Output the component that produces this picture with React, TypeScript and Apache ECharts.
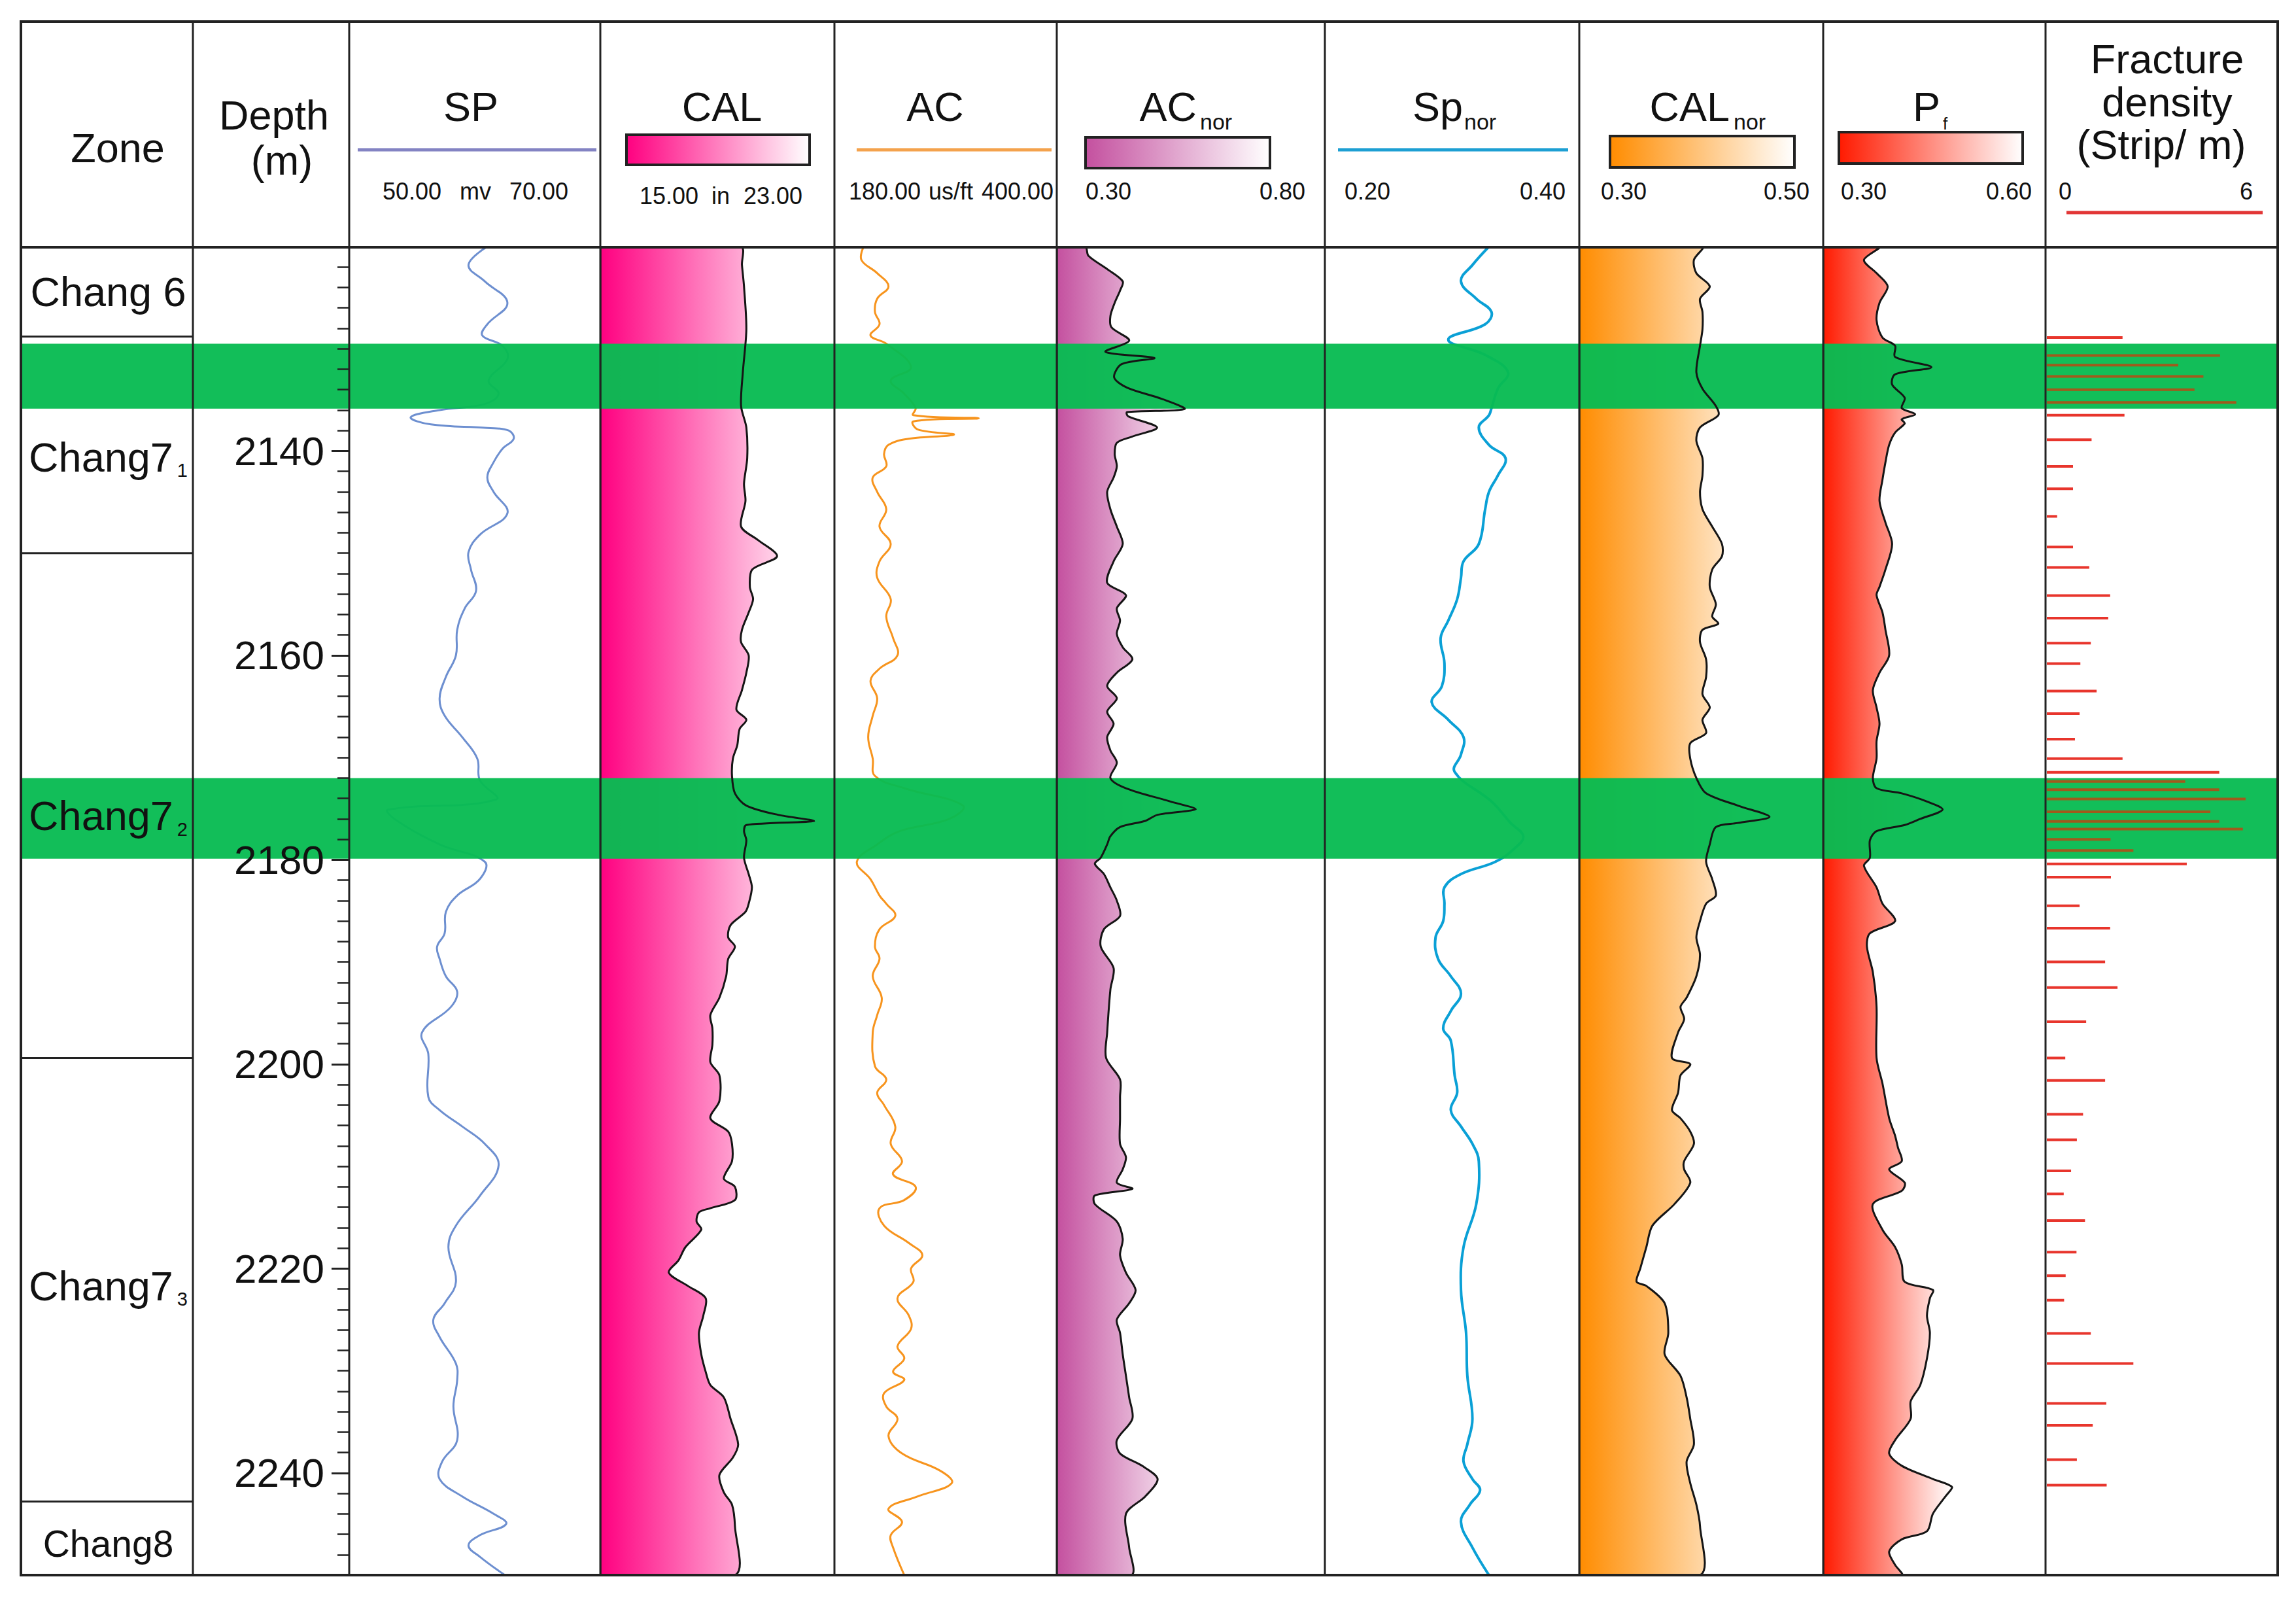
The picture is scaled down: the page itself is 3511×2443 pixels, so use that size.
import React, { useEffect, useRef } from 'react';
import * as echarts from 'echarts';

// ---------------- data ----------------
const DEPTH_MIN = 2120;
const DEPTH_MAX = 2250;
const DEPTH_TICK_LABELS = [2140, 2160, 2180, 2200, 2220, 2240];

const ZONE_NAMES = ['Chang 6', 'Chang7', 'Chang7', 'Chang7', 'Chang8'];
const ZONE_SUBS = ['', '1', '2', '3', ''];
const ZONE_TOPS = [2120, 2128.8, 2150, 2199.4, 2242.8];
const ZONE_LABEL_DEPTHS = [2124.4, 2140.6, 2175.7, 2221.7, 2246.9];

const BAND_TOPS = [2129.5, 2172.0];
const BAND_BOTTOMS = [2135.85, 2179.9];

// [depth (m), value]
const SP = [
  [2120, 61.0], [2121.8, 59.5], [2123.4, 60.8], [2125.5, 62.6], [2127.6, 61.0], [2128.7, 60.6], [2129.7, 62.2],
  [2131.0, 62.6], [2133.1, 61.1], [2134.4, 61.9], [2135.4, 60.8], [2136.0, 57.2], [2136.7, 54.9], [2137.4, 56.5],
  [2137.75, 61.0], [2138.0, 62.7], [2138.8, 63.1], [2139.8, 62.2], [2141.1, 61.5], [2142.6, 61.0], [2144.0, 61.5],
  [2146.1, 62.6], [2148.2, 60.4], [2149.9, 59.5], [2151.6, 59.7], [2153.7, 60.1], [2155.4, 59.2], [2157.5, 58.6],
  [2160.0, 58.5], [2162.1, 57.7], [2164.2, 57.2], [2165.9, 57.6], [2168.0, 59.0], [2170.1, 60.2], [2172.2, 60.4],
  [2174.1, 61.7], [2175.1, 53.1], [2176.0, 53.6], [2178.5, 57.2], [2180.2, 60.8], [2181.9, 60.4], [2183.5, 58.6],
  [2185.1, 57.7], [2187.2, 57.6], [2188.5, 57.0], [2189.7, 57.2], [2191.4, 57.7], [2192.9, 58.6], [2194.4, 58.1],
  [2196.9, 55.8], [2199.0, 56.3], [2203.2, 56.3], [2204.5, 57.2], [2206.1, 59.0], [2207.8, 60.8], [2209.9, 61.9],
  [2212.9, 60.4], [2215.8, 58.5], [2217.9, 57.9], [2221.3, 58.5], [2223.4, 57.6], [2225.0, 56.7], [2226.7, 57.2],
  [2229.3, 58.5], [2230.9, 58.6], [2233.5, 58.3], [2236.8, 58.6], [2238.9, 57.4], [2240.6, 57.2], [2242.3, 59.0],
  [2244.0, 61.5], [2245.0, 62.5], [2246.1, 60.4], [2247.1, 59.5], [2248.2, 60.4], [2250, 62.4],
];

const CAL = [
  [2120, 19.8], [2121.8, 19.84], [2123.9, 19.91], [2128.1, 19.99], [2132.3, 19.87], [2135.6, 19.81], [2137.7, 19.99],
  [2140.7, 20.02], [2143.2, 19.91], [2144.9, 19.96], [2147.4, 19.81], [2148.7, 20.38], [2150.3, 21.04], [2151.6, 20.19],
  [2153.3, 20.11], [2154.5, 20.22], [2155.8, 20.07], [2157.5, 19.84], [2158.7, 19.81], [2160.0, 20.07], [2161.7, 19.99],
  [2163.4, 19.84], [2165.3, 19.65], [2166.3, 19.99], [2167.2, 19.76], [2168.8, 19.68], [2170.1, 19.53], [2171.8, 19.5],
  [2173.5, 19.6], [2174.7, 19.99], [2175.6, 21.07], [2176.2, 22.3], [2176.6, 19.99], [2177.2, 19.91], [2178.1, 19.99],
  [2179.8, 19.91], [2181.4, 20.07], [2182.7, 20.18], [2184.3, 20.07], [2185.1, 19.96], [2186.4, 19.45], [2187.6, 19.37],
  [2188.5, 19.6], [2189.7, 19.37], [2191.4, 19.3], [2193.5, 19.07], [2195.2, 18.76], [2196.5, 18.83], [2198.1, 18.83],
  [2199.8, 18.76], [2201.1, 19.07], [2203.6, 19.07], [2205.3, 18.76], [2206.6, 19.37], [2207.8, 19.5], [2209.5, 19.5],
  [2211.2, 19.22], [2212.0, 19.6], [2213.3, 19.6], [2214.1, 18.76], [2214.5, 18.37], [2215.4, 18.29], [2216.2, 18.45],
  [2217.9, 17.91], [2219.2, 17.67], [2220.4, 17.34], [2221.7, 17.99], [2222.9, 18.6], [2224.6, 18.52], [2226.3, 18.37],
  [2228.4, 18.45], [2230.1, 18.6], [2231.4, 18.76], [2232.6, 19.22], [2234.7, 19.45], [2237.2, 19.71], [2238.5, 19.53],
  [2240.2, 19.07], [2241.9, 19.22], [2243.1, 19.5], [2245.2, 19.6], [2250, 19.6],
];

const AC = [
  [2120, 208.9], [2121.3, 206.7], [2122.6, 222.3], [2123.9, 233.5], [2125.1, 222.3], [2126.4, 220.1], [2127.6, 224.6],
  [2128.7, 215.7], [2129.5, 231.3], [2131.8, 255.8], [2133.1, 235.7], [2134.4, 249.1], [2135.8, 260.3], [2136.5, 258.1],
  [2136.8, 322.8], [2137.1, 258.1], [2137.9, 262.5], [2138.4, 298.2], [2138.8, 253.6], [2139.4, 233.5], [2140.3, 229.1],
  [2141.5, 231.3], [2142.6, 217.9], [2144.0, 222.3], [2145.7, 231.3], [2147.4, 224.6], [2149.1, 235.7], [2150.8, 224.6],
  [2152.4, 222.3], [2154.5, 235.7], [2156.2, 231.3], [2158.3, 238.0], [2160.0, 242.4], [2161.3, 224.6], [2162.5, 215.7],
  [2164.2, 222.3], [2165.9, 217.9], [2168.0, 213.4], [2170.1, 217.9], [2171.8, 220.1], [2173.0, 249.1], [2174.7, 307.2],
  [2176.0, 293.8], [2177.2, 244.6], [2178.5, 222.3], [2180.2, 202.2], [2181.9, 215.7], [2183.5, 224.6], [2184.3, 231.3],
  [2185.5, 240.2], [2186.8, 224.6], [2188.5, 220.1], [2189.7, 224.6], [2191.4, 217.9], [2193.5, 226.8], [2195.2, 222.3],
  [2196.9, 217.9], [2200.2, 220.1], [2201.5, 231.3], [2202.8, 222.3], [2204.0, 229.1], [2206.1, 240.2], [2207.8, 235.7],
  [2209.5, 246.9], [2210.8, 238.0], [2212.0, 260.3], [2213.3, 249.1], [2214.1, 224.6], [2215.8, 229.1], [2217.5, 253.6],
  [2218.7, 267.0], [2220.0, 255.8], [2221.3, 258.1], [2222.9, 242.4], [2224.6, 253.6], [2225.9, 255.8], [2227.6, 242.4],
  [2228.8, 249.1], [2230.1, 238.0], [2230.9, 249.1], [2232.2, 229.1], [2233.5, 231.3], [2234.7, 242.4], [2236.4, 233.5],
  [2238.1, 246.9], [2239.8, 284.9], [2241.0, 296.0], [2242.3, 262.5], [2243.5, 233.5], [2244.8, 246.9], [2246.1, 235.7],
  [2247.3, 238.0], [2250, 249.1],
];

const AC_NOR = [
  [2120, 0.353], [2120.9, 0.359], [2122.2, 0.394], [2123.4, 0.423], [2124.3, 0.418], [2125.5, 0.408], [2126.8, 0.4],
  [2127.9, 0.402], [2129.2, 0.435], [2130.3, 0.391], [2130.9, 0.482], [2131.5, 0.421], [2132.8, 0.407], [2133.8, 0.431],
  [2134.9, 0.496], [2135.9, 0.538], [2136.2, 0.431], [2136.6, 0.433], [2137.7, 0.487], [2138.6, 0.44], [2139.2, 0.412],
  [2140.3, 0.408], [2141.5, 0.412], [2142.6, 0.406], [2144.0, 0.394], [2145.7, 0.4], [2147.4, 0.412], [2149.1, 0.423],
  [2150.8, 0.406], [2152.9, 0.394], [2154.1, 0.429], [2155.4, 0.412], [2156.6, 0.418], [2157.9, 0.412], [2159.2, 0.423],
  [2160.4, 0.441], [2161.7, 0.412], [2163.0, 0.394], [2164.2, 0.412], [2165.5, 0.394], [2166.7, 0.406], [2168.0, 0.394],
  [2169.3, 0.4], [2170.5, 0.412], [2172.0, 0.4], [2173.0, 0.429], [2174.3, 0.512], [2175.05, 0.559], [2175.6, 0.488],
  [2176.2, 0.465], [2176.8, 0.418], [2177.7, 0.4], [2178.5, 0.394], [2179.8, 0.382], [2180.4, 0.371], [2181.4, 0.388],
  [2182.7, 0.4], [2184.0, 0.412], [2185.5, 0.418], [2186.8, 0.388], [2188.5, 0.382], [2190.6, 0.406], [2192.7, 0.4],
  [2196.9, 0.394], [2199.4, 0.392], [2201.5, 0.418], [2203.2, 0.418], [2205.3, 0.418], [2207.8, 0.418], [2209.1, 0.429],
  [2210.3, 0.423], [2211.6, 0.412], [2212.2, 0.441], [2212.85, 0.371], [2213.7, 0.371], [2215.4, 0.412], [2217.1, 0.423],
  [2218.7, 0.418], [2220.4, 0.429], [2222.1, 0.447], [2223.4, 0.435], [2225.0, 0.412], [2226.3, 0.418], [2228.4, 0.423],
  [2230.5, 0.429], [2232.6, 0.435], [2234.7, 0.441], [2236.8, 0.412], [2238.1, 0.418], [2239.3, 0.459], [2240.6, 0.488],
  [2242.3, 0.465], [2244.0, 0.429], [2247.3, 0.435], [2250, 0.439],
];

const SP_NOR = [
  [2120, 0.329], [2121.8, 0.316], [2123.4, 0.307], [2125.1, 0.319], [2126.4, 0.331], [2127.6, 0.326], [2129.1, 0.297],
  [2130.6, 0.326], [2132.3, 0.344], [2133.9, 0.336], [2135.8, 0.331], [2136.5, 0.329], [2137.7, 0.321], [2139.4, 0.329],
  [2140.7, 0.342], [2142.4, 0.336], [2144.0, 0.329], [2145.7, 0.326], [2149.1, 0.321], [2150.8, 0.309], [2152.4, 0.307],
  [2154.5, 0.304], [2156.6, 0.297], [2158.3, 0.291], [2160.8, 0.294], [2163.0, 0.292], [2164.6, 0.284], [2166.3, 0.297],
  [2168.0, 0.309], [2169.7, 0.307], [2171.4, 0.302], [2174.3, 0.331], [2176.4, 0.346], [2177.7, 0.356], [2178.9, 0.349],
  [2180.2, 0.334], [2181.4, 0.307], [2182.7, 0.294], [2184.3, 0.294], [2186.0, 0.293], [2187.6, 0.287], [2189.7, 0.289],
  [2191.4, 0.299], [2193.1, 0.307], [2194.8, 0.299], [2196.5, 0.293], [2197.7, 0.299], [2201.1, 0.302], [2202.8, 0.304],
  [2204.5, 0.299], [2206.1, 0.307], [2207.8, 0.316], [2209.5, 0.321], [2213.7, 0.319], [2217.9, 0.309], [2222.1, 0.307],
  [2226.3, 0.311], [2230.5, 0.312], [2234.7, 0.316], [2237.2, 0.312], [2238.9, 0.309], [2240.6, 0.316], [2241.7, 0.322],
  [2243.1, 0.314], [2244.8, 0.307], [2247.3, 0.316], [2250, 0.329],
];

const CAL_NOR = [
  [2120, 0.401], [2121.3, 0.394], [2122.6, 0.396], [2123.9, 0.407], [2125.1, 0.399], [2126.4, 0.401], [2128.1, 0.401],
  [2129.7, 0.399], [2132.3, 0.396], [2133.9, 0.401], [2135.6, 0.412], [2136.5, 0.414], [2137.7, 0.399], [2139.0, 0.396],
  [2140.7, 0.401], [2142.4, 0.401], [2144.0, 0.399], [2145.7, 0.401], [2147.4, 0.409], [2149.1, 0.417], [2150.3, 0.417],
  [2151.6, 0.409], [2153.3, 0.407], [2155.0, 0.412], [2156.2, 0.409], [2156.9, 0.414], [2157.5, 0.401], [2158.7, 0.399],
  [2160.4, 0.404], [2162.1, 0.404], [2163.8, 0.401], [2165.1, 0.407], [2166.3, 0.401], [2167.6, 0.404], [2168.6, 0.391],
  [2170.1, 0.391], [2172.0, 0.396], [2173.5, 0.404], [2174.7, 0.43], [2175.8, 0.456], [2176.4, 0.43], [2176.8, 0.412],
  [2178.5, 0.407], [2180.2, 0.404], [2181.9, 0.409], [2183.5, 0.412], [2184.3, 0.404], [2186.0, 0.399], [2187.6, 0.396],
  [2189.3, 0.399], [2191.4, 0.396], [2193.5, 0.388], [2194.4, 0.383], [2195.6, 0.386], [2196.9, 0.381], [2199.4, 0.376],
  [2200.0, 0.391], [2201.1, 0.383], [2202.8, 0.381], [2204.5, 0.376], [2205.3, 0.383], [2206.6, 0.391], [2207.8, 0.394],
  [2209.5, 0.386], [2210.3, 0.386], [2211.6, 0.391], [2213.7, 0.378], [2215.8, 0.36], [2217.9, 0.355], [2220.0, 0.35],
  [2221.3, 0.347], [2221.7, 0.355], [2223.4, 0.37], [2226.3, 0.373], [2228.4, 0.37], [2230.5, 0.383], [2232.6, 0.388],
  [2234.7, 0.391], [2237.2, 0.394], [2238.9, 0.388], [2241.0, 0.391], [2243.1, 0.396], [2245.2, 0.399], [2250, 0.399],
];

const PF = [
  [2120, 0.376], [2121.3, 0.355], [2122.6, 0.372], [2123.9, 0.387], [2125.5, 0.376], [2127.2, 0.372], [2128.9, 0.38],
  [2129.7, 0.397], [2130.8, 0.397], [2131.8, 0.446], [2132.5, 0.397], [2133.5, 0.393], [2134.8, 0.41], [2135.8, 0.406],
  [2136.4, 0.424], [2136.9, 0.406], [2137.3, 0.41], [2138.2, 0.397], [2139.4, 0.389], [2141.1, 0.384], [2142.8, 0.38],
  [2144.9, 0.376], [2147.0, 0.384], [2149.1, 0.393], [2151.6, 0.384], [2153.3, 0.376], [2154.1, 0.372], [2155.8, 0.38],
  [2157.5, 0.384], [2160.0, 0.389], [2161.7, 0.376], [2163.4, 0.367], [2165.1, 0.372], [2166.7, 0.376], [2168.4, 0.372],
  [2170.1, 0.372], [2172.0, 0.367], [2173.0, 0.372], [2173.5, 0.406], [2174.3, 0.44], [2175.1, 0.461], [2176.0, 0.431],
  [2176.6, 0.41], [2177.2, 0.372], [2178.1, 0.363], [2179.8, 0.363], [2180.6, 0.355], [2182.7, 0.372], [2184.3, 0.38],
  [2186.0, 0.397], [2187.2, 0.363], [2188.5, 0.359], [2191.0, 0.367], [2194.4, 0.372], [2199.4, 0.372], [2201.9, 0.38],
  [2205.3, 0.389], [2207.0, 0.397], [2208.2, 0.401], [2209.5, 0.406], [2210.3, 0.389], [2211.6, 0.41], [2212.4, 0.406],
  [2213.7, 0.367], [2216.2, 0.38], [2217.9, 0.397], [2219.6, 0.406], [2221.3, 0.41], [2222.1, 0.448], [2222.9, 0.444],
  [2224.6, 0.44], [2226.3, 0.444], [2228.8, 0.44], [2231.4, 0.431], [2233.0, 0.418], [2234.7, 0.418], [2236.8, 0.397],
  [2238.1, 0.389], [2239.3, 0.406], [2240.6, 0.448], [2241.4, 0.474], [2242.3, 0.465], [2244.0, 0.448], [2245.7, 0.44],
  [2246.5, 0.406], [2247.7, 0.389], [2249.0, 0.397], [2250, 0.406],
];

// fracture density, [depth (m), strips per m]
const FRACTURES = [
  [2128.9, 1.99], [2130.65, 4.51], [2131.6, 3.43], [2132.7, 4.08], [2134.0, 3.85], [2135.25, 4.93], [2136.5, 2.04],
  [2138.9, 1.19], [2141.5, 0.71], [2143.7, 0.71], [2146.4, 0.3], [2149.4, 0.71], [2151.4, 1.13], [2154.15, 1.67],
  [2156.35, 1.62], [2158.8, 1.17], [2160.8, 0.9], [2163.5, 1.32], [2165.7, 0.88], [2168.2, 0.76], [2170.1, 1.99],
  [2171.45, 4.49], [2172.35, 3.61], [2173.15, 4.49], [2174.05, 5.17], [2175.3, 4.26], [2176.25, 4.49], [2177.0, 5.1],
  [2178.0, 1.68], [2179.1, 2.27], [2180.4, 3.65], [2181.7, 1.69], [2184.5, 0.88], [2186.7, 1.67], [2190.0, 1.54],
  [2192.5, 1.86], [2195.85, 1.05], [2199.4, 0.51], [2201.6, 1.54], [2204.9, 0.97], [2207.4, 0.81], [2210.45, 0.66],
  [2212.7, 0.47], [2215.3, 1.02], [2218.4, 0.8], [2220.7, 0.52], [2223.1, 0.48], [2226.35, 1.17], [2229.3, 2.27],
  [2233.2, 1.57], [2235.35, 1.22], [2238.7, 0.81], [2241.2, 1.58],
];

// ---------------- layout / style ----------------
const W = 3511;
const H = 2443;
const FONT = '"Liberation Sans", Arial, Helvetica, "Noto Sans CJK SC", sans-serif';
const COLS = [32, 295, 534, 918, 1276, 1616, 2026, 2415, 2788, 3128, 3483];
const FRAME_TOP = 33;
const HEAD_BOTTOM = 378;
const PLOT_TOP = 377;
const FRAME_BOTTOM = 2408;

const TRACKS: any[] = [
  { data: SP, col: 2, min: 50, max: 70, color: '#6d8fd0', width: 3 },
  { data: CAL, col: 3, min: 15, max: 23, fill: '#ff0080' },
  { data: AC, col: 4, min: 180, max: 400, color: '#f7941d', width: 3 },
  { data: AC_NOR, col: 5, min: 0.3, max: 0.8, fill: '#c4509f' },
  { data: SP_NOR, col: 6, min: 0.2, max: 0.4, color: '#0aa0d6', width: 4 },
  { data: CAL_NOR, col: 7, min: 0.3, max: 0.5, fill: '#ff8c00' },
  { data: PF, col: 8, min: 0.3, max: 0.6, fill: '#ff1a00' },
];

function grad(c: string) {
  return new echarts.graphic.LinearGradient(0, 0, 1, 0, [
    { offset: 0, color: c },
    { offset: 1, color: '#ffffff' },
  ]);
}

function T(x: number, y: number, text: string, size: number, align = 'center', extra: any = {}) {
  return {
    type: 'text', x, y, z: 30, silent: true,
    style: { text, fontSize: size, fontFamily: FONT, fill: '#111', align, verticalAlign: 'middle', ...extra },
  };
}
function L(x1: number, y1: number, x2: number, y2: number, w: number, color = '#222') {
  return { type: 'line', z: 30, silent: true, shape: { x1, y1, x2, y2 }, style: { stroke: color, lineWidth: w } };
}
function BOX(x: number, y: number, w: number, h: number, c: string) {
  return { type: 'rect', z: 30, silent: true, shape: { x, y, width: w, height: h }, style: { fill: grad(c), stroke: '#222', lineWidth: 4 } };
}

function buildOption() {
  const grids: any[] = [];
  const xAxis: any[] = [];
  const yAxis: any[] = [];
  const series: any[] = [];

  const addGrid = (left: number, right: number, xmin: number, xmax: number) => {
    const i = grids.length;
    grids.push({ left, top: PLOT_TOP, width: right - left, height: FRAME_BOTTOM - PLOT_TOP, show: false, containLabel: false, outerBoundsMode: 'none' });
    xAxis.push({ type: 'value', gridIndex: i, min: xmin, max: xmax, show: false });
    yAxis.push({ type: 'value', gridIndex: i, min: DEPTH_MIN, max: DEPTH_MAX, inverse: true, show: false });
    return i;
  };

  // zone column
  const zg = addGrid(COLS[0], COLS[1], 0, 1);
  series.push({
    type: 'custom', coordinateSystem: 'cartesian2d', xAxisIndex: zg, yAxisIndex: zg, z: 7, silent: true,
    data: ZONE_NAMES.map((_, i) => [0.5, ZONE_LABEL_DEPTHS[i]]),
    renderItem: (params: any, api: any) => {
      const i = params.dataIndex;
      const children: any[] = [];
      if (i > 0) {
        const a = api.coord([0, ZONE_TOPS[i]]);
        const b = api.coord([1, ZONE_TOPS[i]]);
        children.push({ type: 'line', shape: { x1: a[0], y1: a[1], x2: b[0], y2: b[1] }, style: { stroke: '#222', lineWidth: 3 } });
      }
      const c = api.coord([0.5, ZONE_LABEL_DEPTHS[i]]);
      const size = ZONE_NAMES[i] === 'Chang8' ? 57 : 63;
      const sub = ZONE_SUBS[i];
      children.push({
        type: 'text', x: c[0] + 2, y: c[1],
        style: {
          text: sub ? `{m|${ZONE_NAMES[i]}}{s|${sub}}` : `{m|${ZONE_NAMES[i]}}`,
          align: 'center', verticalAlign: 'middle',
          rich: {
            m: { fontSize: size, fontFamily: FONT, fill: '#111', lineHeight: 70 },
            s: { fontSize: 29, fontFamily: FONT, fill: '#111', lineHeight: 22, verticalAlign: 'bottom', padding: [0, 0, 0, 6] },
          },
        },
      });
      return { type: 'group', children };
    },
  });

  // depth column (major ticks + labels)
  const dg = addGrid(COLS[1], COLS[2], 0, 1);
  yAxis[dg] = {
    type: 'value', gridIndex: dg, min: DEPTH_MIN, max: DEPTH_MAX, interval: 20, inverse: true, position: 'right', z: 10,
    axisLine: { show: false, onZero: false },
    splitLine: { show: false },
    axisTick: { show: true, inside: true, length: 27, lineStyle: { color: '#222', width: 3 } },
    axisLabel: {
      show: true, inside: true, margin: 38, fontSize: 62, fontFamily: FONT, color: '#111',
      formatter: (v: number) => (DEPTH_TICK_LABELS.indexOf(v) >= 0 ? String(v) : ''),
    },
  };
  // depth column (minor ticks)
  const mg = addGrid(COLS[1], COLS[2], 0, 1);
  yAxis[mg] = {
    type: 'value', gridIndex: mg, min: DEPTH_MIN, max: DEPTH_MAX, interval: 2, inverse: true, position: 'right', z: 10,
    axisLine: { show: false, onZero: false },
    splitLine: { show: false },
    axisTick: { show: true, inside: true, length: 18, lineStyle: { color: '#222', width: 2.5 } },
    axisLabel: { show: false },
  };

  // log tracks
  TRACKS.forEach((t) => {
    const g = addGrid(COLS[t.col], COLS[t.col + 1], t.min, t.max);
    const pointsOf = (api: any) => t.data.map((p: number[]) => api.coord([p[1], p[0]]));
    if (t.fill) {
      const polyOf = (api: any) => {
        const pts = pointsOf(api);
        const x0 = api.coord([t.min, DEPTH_MIN])[0];
        const poly = [[x0, pts[0][1]], ...pts, [x0, pts[pts.length - 1][1]]];
        let minX = Infinity, minY = Infinity, maxX = -Infinity, maxY = -Infinity;
        poly.forEach((p: number[]) => {
          minX = Math.min(minX, p[0]); maxX = Math.max(maxX, p[0]);
          minY = Math.min(minY, p[1]); maxY = Math.max(maxY, p[1]);
        });
        return { points: poly, smooth: 0.3, smoothConstraint: [[minX, minY], [maxX, maxY]] };
      };
      series.push({
        type: 'custom', coordinateSystem: 'cartesian2d', xAxisIndex: g, yAxisIndex: g, z: 2, clip: true, silent: true,
        data: [[t.min, DEPTH_MIN]],
        renderItem: (p: any, api: any) => ({ type: 'polygon', shape: polyOf(api), style: { fill: grad(t.fill), stroke: 'none' } }),
      });
      series.push({
        type: 'custom', coordinateSystem: 'cartesian2d', xAxisIndex: g, yAxisIndex: g, z: 6, clip: true, silent: true,
        data: [[t.min, DEPTH_MIN]],
        renderItem: (p: any, api: any) => ({ type: 'polygon', shape: polyOf(api), style: { fill: 'none', stroke: '#151515', lineWidth: 3 } }),
      });
    } else {
      series.push({
        type: 'custom', coordinateSystem: 'cartesian2d', xAxisIndex: g, yAxisIndex: g, z: 2, clip: true, silent: true,
        data: [[t.min, DEPTH_MIN]],
        renderItem: (p: any, api: any) => ({
          type: 'polyline', shape: { points: pointsOf(api), smooth: 0.4 },
          style: { fill: 'none', stroke: t.color, lineWidth: t.width },
        }),
      });
    }
  });

  // fracture density
  const fg = addGrid(COLS[9], COLS[10], 0, 6);
  series.push({
    type: 'custom', coordinateSystem: 'cartesian2d', xAxisIndex: fg, yAxisIndex: fg, z: 6, silent: true,
    data: FRACTURES.map((p) => [p[1], p[0]]),
    renderItem: (params: any, api: any) => {
      const v = api.value(0);
      const d = api.value(1);
      const a = api.coord([0, d]);
      const b = api.coord([v, d]);
      const inBand = BAND_TOPS.some((top, i) => d >= top && d <= BAND_BOTTOMS[i]);
      return {
        type: 'line', shape: { x1: a[0] + 2, y1: a[1], x2: b[0], y2: b[1] },
        style: { stroke: inBand ? '#a05a1c' : '#e8352c', lineWidth: 4 },
      };
    },
  });

  // green highlight bands
  const bg = addGrid(COLS[0] + 1, COLS[10] + 2, 0, 1);
  series.push({
    type: 'custom', coordinateSystem: 'cartesian2d', xAxisIndex: bg, yAxisIndex: bg, z: 5, silent: true,
    data: BAND_TOPS.map((top, i) => [0, top, BAND_BOTTOMS[i]]),
    renderItem: (params: any, api: any) => {
      const i = params.dataIndex;
      const a = api.coord([0, BAND_TOPS[i]]);
      const b = api.coord([1, BAND_BOTTOMS[i]]);
      return {
        type: 'rect', shape: { x: a[0], y: a[1], width: b[0] - a[0], height: b[1] - a[1] },
        style: { fill: '#08bb52', opacity: 0.96 },
      };
    },
  });

  // header and frame
  const els: any[] = [];
  els.push({ type: 'rect', z: 30, silent: true, shape: { x: COLS[0], y: FRAME_TOP, width: COLS[10] - COLS[0], height: FRAME_BOTTOM - FRAME_TOP }, style: { fill: 'none', stroke: '#222', lineWidth: 4 } });
  els.push(L(COLS[0], HEAD_BOTTOM, COLS[10], HEAD_BOTTOM, 4));
  for (let i = 1; i < COLS.length - 1; i++) els.push(L(COLS[i], FRAME_TOP, COLS[i], FRAME_BOTTOM, 3));

  els.push(T(180, 226, 'Zone', 63));
  els.push(T(419, 176, 'Depth', 63));
  els.push(T(431, 245, '(m)', 63));
  els.push(T(720, 163, 'SP', 63));
  els.push(T(1104, 163, 'CAL', 63));
  els.push(T(1430, 163, 'AC', 63));
  els.push(T(1830, 163, 'AC', 63, 'right'));
  els.push(T(1835, 186, 'nor', 34, 'left'));
  els.push(T(2237, 163, 'Sp', 63, 'right'));
  els.push(T(2239, 186, 'nor', 34, 'left'));
  els.push(T(2645, 163, 'CAL', 63, 'right'));
  els.push(T(2651, 186, 'nor', 34, 'left'));
  els.push(T(2967, 163, 'P', 63, 'right'));
  els.push(T(2971, 189, 'f', 26, 'left'));
  els.push(T(3314, 90, 'Fracture', 63));
  els.push(T(3314, 156, 'density', 63));
  els.push(T(3305, 221, '(Strip/ m)', 63));

  els.push(L(547, 229, 912, 229, 5, '#8383c3'));
  els.push(BOX(958, 206, 280, 46, '#ff0080'));
  els.push(L(1310, 229, 1608, 229, 5, '#f4a24c'));
  els.push(BOX(1660, 210, 282, 47, '#c4509f'));
  els.push(L(2046, 229, 2398, 229, 5, '#1d9fd3'));
  els.push(BOX(2462, 208, 282, 48, '#ff8c00'));
  els.push(BOX(2812, 202, 281, 48, '#ff1a00'));
  els.push(L(3160, 325, 3460, 325, 5, '#e23636'));

  els.push(T(585, 292, '50.00', 36, 'left'));
  els.push(T(727, 292, 'mv', 36));
  els.push(T(869, 292, '70.00', 36, 'right'));
  els.push(T(978, 299, '15.00', 36, 'left'));
  els.push(T(1102, 299, 'in', 36));
  els.push(T(1227, 299, '23.00', 36, 'right'));
  els.push(T(1298, 292, '180.00', 36, 'left'));
  els.push(T(1454, 292, 'us/ft', 36));
  els.push(T(1611, 292, '400.00', 36, 'right'));
  els.push(T(1660, 292, '0.30', 36, 'left'));
  els.push(T(1996, 292, '0.80', 36, 'right'));
  els.push(T(2056, 292, '0.20', 36, 'left'));
  els.push(T(2394, 292, '0.40', 36, 'right'));
  els.push(T(2448, 292, '0.30', 36, 'left'));
  els.push(T(2767, 292, '0.50', 36, 'right'));
  els.push(T(2815, 292, '0.30', 36, 'left'));
  els.push(T(3107, 292, '0.60', 36, 'right'));
  els.push(T(3148, 292, '0', 36, 'left'));
  els.push(T(3445, 292, '6', 36, 'right'));

  return {
    animation: false,
    backgroundColor: '#ffffff',
    grid: grids,
    xAxis,
    yAxis,
    series,
    graphic: { elements: els },
  };
}

export default function App() {
  const ref = useRef<HTMLDivElement>(null);
  useEffect(() => {
    const chart = echarts.init(ref.current as HTMLDivElement, null, { renderer: 'svg', width: W, height: H });
    chart.setOption(buildOption() as any);
    return () => chart.dispose();
  }, []);
  return <div ref={ref} style={{ position: 'fixed', left: 0, top: 0, width: W, height: H, background: '#fff' }} />;
}
